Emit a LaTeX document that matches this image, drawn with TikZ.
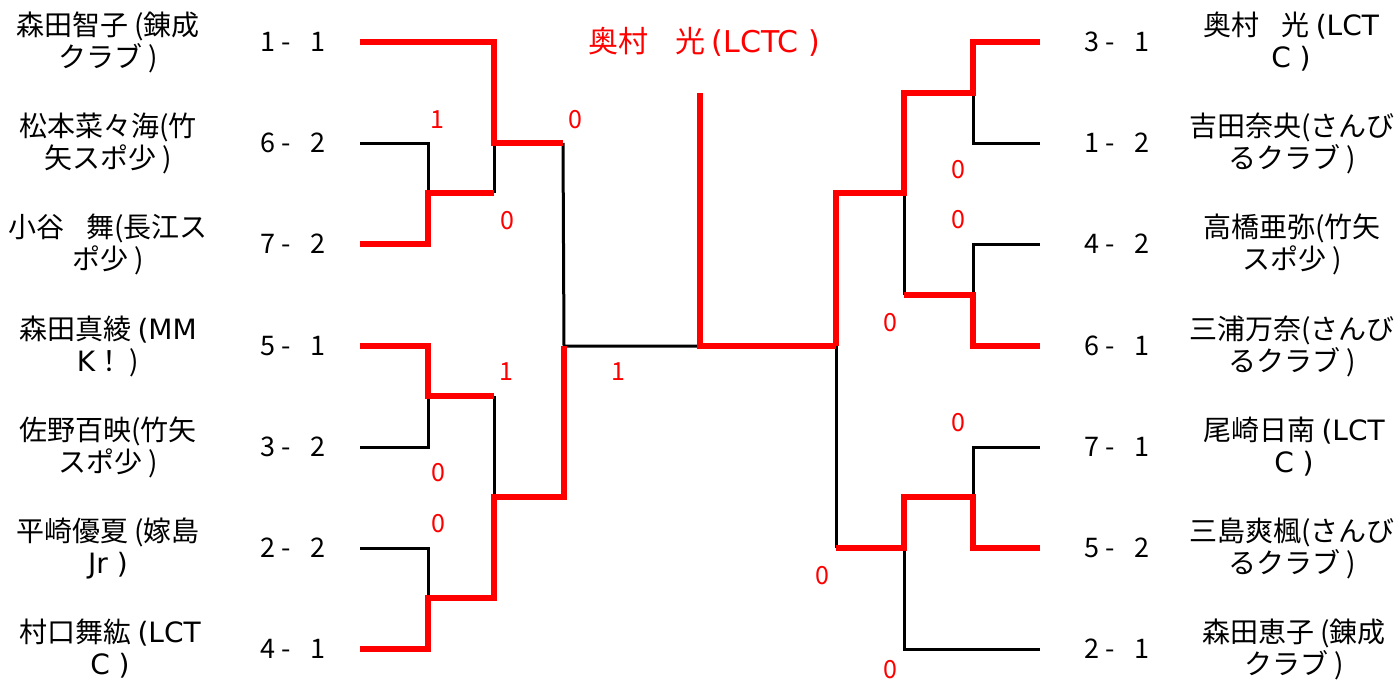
\documentclass[tikz,border=0pt]{standalone}
\usepackage{fontspec}
\setmainfont{Noto Sans CJK JP}
\newfontfamily\lat{DejaVu Sans}
\begin{document}
\begin{tikzpicture}[x=1pt,y=-1pt,
  win/.style={draw=red, line width=6pt},
  lose/.style={draw=black, line width=3pt},
  pname/.style={font=\fontsize{28}{32}\selectfont, align=center, inner sep=0pt},
  pscore/.style={font=\fontsize{27}{32}\selectfont, inner sep=0pt},
  lab/.style={text=red, font=\fontsize{25}{28}\selectfont, inner sep=0pt}]
\useasboundingbox (0,0) rectangle (1398,681);
% ---------- coordinates ----------
\foreach \i/\y in {1/42,2/143,3/244,4/346,5/447,6/548,7/649}{
  \coordinate (L\i) at (360,\y);
  \coordinate (R\i) at (1040,\y);
}
% left
\coordinate (lA2) at (428,143); \coordinate (lA3) at (428,244);
\coordinate (lA23) at (428,193); \coordinate (lB23) at (494,193);
\coordinate (lB1) at (494,42); \coordinate (lB12) at (494,143);
\coordinate (lC12) at (563,143);
\coordinate (lA4) at (428,346); \coordinate (lA5) at (428,447);
\coordinate (lA45) at (428,396); \coordinate (lB45) at (494,396);
\coordinate (lA6) at (428,548); \coordinate (lA7) at (428,649);
\coordinate (lA67) at (428,598); \coordinate (lB67) at (494,598);
\coordinate (lB47) at (494,497); \coordinate (lC47) at (564,497);
\coordinate (lC) at (564,346);
% final
\coordinate (fM) at (700,346); \coordinate (fT) at (700,93); \coordinate (fR) at (836,346);
% right
\coordinate (rA1) at (973,42); \coordinate (rA2) at (973,143);
\coordinate (rA12) at (973,93); \coordinate (rB12) at (904,93);
\coordinate (rA3) at (973,244); \coordinate (rA4) at (973,346);
\coordinate (rA34) at (973,295); \coordinate (rB34) at (904,295);
\coordinate (rB14) at (904,193); \coordinate (rC14) at (836,193);
\coordinate (rA5) at (973,447); \coordinate (rA6) at (973,548);
\coordinate (rA56) at (973,497); \coordinate (rB56) at (904,497);
\coordinate (rB57) at (904,548); \coordinate (rB7) at (904,649);
\coordinate (rC57) at (836,548);
% ---------- black lines ----------
\draw[lose] (L2) -- (lA2) -- (lA23);
\draw[lose] (lB23) -- (lB12);
\draw[lose] (lC12) -- (lC) -- (fM);
\draw[lose] (L5) -- (lA5) -- (lA45);
\draw[lose] (lB45) -- (lB47);
\draw[lose] (L6) -- (lA6) -- (lA67);
\draw[lose] (R2) -- (rA2) -- (rA12);
\draw[lose] (R3) -- (rA3) -- (rA34);
\draw[lose] (rB14) -- (rB34);
\draw[lose] (fR) -- (rC57);
\draw[lose] (R5) -- (rA5) -- (rA56);
\draw[lose] (R7) -- (rB7) -- (rB57);
% ---------- red lines ----------
\draw[win] (L1) -- (lB1) -- (lB12) -- (lC12);
\draw[win] (L3) -- (lA3) -- (lA23) -- (lB23);
\draw[win] (L4) -- (lA4) -- (lA45) -- (lB45);
\draw[win] (L7) -- (lA7) -- (lA67) -- (lB67) -- (lB47) -- (lC47) -- (lC);
\draw[win] (fT) -- (fM) -- (fR);
\draw[win] (R1) -- (rA1) -- (rA12) -- (rB12) -- (rB14) -- (rC14) -- (fR);
\draw[win] (R4) -- (rA4) -- (rA34) -- (rB34);
\draw[win] (R6) -- (rA6) -- (rA56) -- (rB56) -- (rB57) -- (rC57);
% ---------- champion ----------
\node[text=red, font=\fontsize{30}{34}\selectfont, inner sep=0pt] (champ) at (704,42) {奥村\hspace{0.9em}光 {\lat(LCTC )}};
% ---------- names left ----------
\node[pname] (nl1) at (108,42) {森田智子 (錬成\\クラブ )};
\node[pname] (nl2) at (108,143) {松本菜々海(竹\\矢スポ少 )};
\node[pname] (nl3) at (108,244) {小谷\hspace{0.8em}舞(長江ス\\ポ少 )};
\node[pname] (nl4) at (108,346) {森田真綾 {\lat(MM}\\{\lat K}！ )};
\node[pname] (nl5) at (108,447) {佐野百映(竹矢\\スポ少 )};
\node[pname] (nl6) at (108,548) {平崎優夏 (嫁島\\{\lat Jr )}};
\node[pname] (nl7) at (110,649) {村口舞紘 {\lat(LCT}\\{\lat C )}};
% ---------- names right ----------
\node[pname] (nr1) at (1291,42) {奥村\hspace{0.8em}光 {\lat(LCT}\\{\lat C )}};
\node[pname] (nr2) at (1292,143) {吉田奈央(さんび\\るクラブ )};
\node[pname] (nr3) at (1292,244) {高橋亜弥(竹矢\\スポ少 )};
\node[pname] (nr4) at (1292,346) {三浦万奈(さんび\\るクラブ )};
\node[pname] (nr5) at (1294,447) {尾崎日南 {\lat(LCT}\\{\lat C )}};
\node[pname] (nr6) at (1292,548) {三島爽楓(さんび\\るクラブ )};
\node[pname] (nr7) at (1294,649) {森田恵子 (錬成\\クラブ )};
% ---------- scores ----------
\foreach \n/\s/\y in {1/1 - \hspace{0.5em}1/42, 2/6 - \hspace{0.5em}2/143, 3/7 - \hspace{0.5em}2/244, 4/5 - \hspace{0.5em}1/346, 5/3 - \hspace{0.5em}2/447, 6/2 - \hspace{0.5em}2/548, 7/4 - \hspace{0.5em}1/649}
  \node[pscore] (sl\n) at (293,\y) {\s};
\foreach \n/\s/\y in {1/3 - \hspace{0.5em}1/42, 2/1 - \hspace{0.5em}2/143, 3/4 - \hspace{0.5em}2/244, 4/6 - \hspace{0.5em}1/346, 5/7 - \hspace{0.5em}1/447, 6/5 - \hspace{0.5em}2/548, 7/2 - \hspace{0.5em}1/649}
  \node[pscore] (sr\n) at (1117,\y) {\s};
% ---------- match scores ----------
\node[lab] (g1) at (437,120) {1};
\node[lab] (g2) at (575,120) {0};
\node[lab] (g3) at (507,221) {0};
\node[lab] (g4) at (506,372) {1};
\node[lab] (g5) at (618,372) {1};
\node[lab] (g6) at (438,473) {0};
\node[lab] (g7) at (438,524) {0};
\node[lab] (g8) at (958,170) {0};
\node[lab] (g9) at (958,220) {0};
\node[lab] (g10) at (890,323) {0};
\node[lab] (g11) at (958,423) {0};
\node[lab] (g12) at (822,576) {0};
\node[lab] (g13) at (890,670) {0};
\end{tikzpicture}
\end{document}
